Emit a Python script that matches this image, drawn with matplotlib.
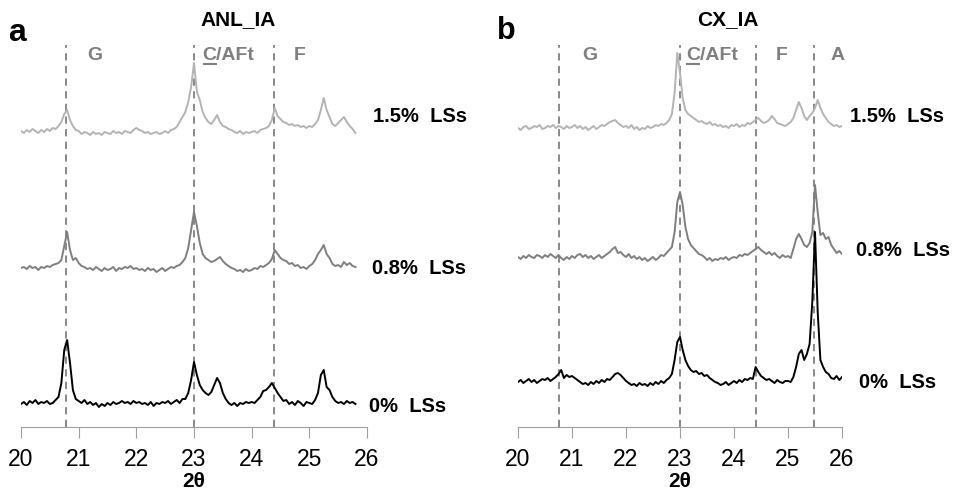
import numpy as np
import matplotlib
matplotlib.use("Agg")
import matplotlib.pyplot as plt

plt.rcParams['font.family'] = ['Liberation Sans', 'DejaVu Sans']

# XRD patterns, 2theta from 20 in 0.05 steps, intensity in arbitrary units
a_0 = [1, 3, 0, 4, 2, 5, 1, 3, 2, 4, 1, 2, 5, 8, 22, 55, 65, 42, 15, 6,
       4, 2, 5, 1, 3, 0, 2, -2, 1, -1, 2, 0, 3, 1, 2, 4, 2, 3, 1, 4,
       2, 3, 1, 2, 0, 3, -1, 2, 1, 3, 2, 4, 1, 3, 5, 2, 6, 6, 12, 25,
       43, 30, 20, 15, 12, 10, 13, 20, 27, 22, 12, 6, 2, 0, 2, -1, 2, 1, 3, 2,
       3, 2, 5, 8, 14, 15, 18, 22, 17, 12, 8, 4, 5, 1, 3, 0, 4, 2, -1, 3,
       2, 1, 5, 12, 30, 35, 18, 15, 8, 4, 2, 3, 1, 4, 2, 3, 1]
a_08 = [0, 1, -1, 2, 0, 1, -2, 1, 0, 2, 1, 3, 4, 5, 8, 22, 36, 18, 8, 10,
        5, 2, 1, -1, 0, -2, 1, -1, -3, 0, -2, -1, 1, -3, 0, -1, 1, 0, 2, -1,
        0, -2, -1, -3, 0, -2, -1, -4, -2, 0, -3, -1, 1, 0, 2, 3, 6, 10, 20, 38,
        56, 42, 25, 14, 10, 8, 6, 7, 9, 11, 7, 4, 2, 0, -1, -3, -2, -4, -1, -3,
        -2, 0, -1, 2, 1, 3, 5, 9, 18, 14, 10, 8, 7, 4, 5, 2, 3, 0, 1, -1,
        2, 4, 8, 14, 18, 23, 14, 10, 4, 2, 3, 1, 6, 3, 5, 2, 1]
a_15 = [1, -1, 2, 0, 3, 1, -1, 2, 0, 3, 1, 4, 3, 6, 10, 18, 22, 12, 6, 2,
        1, -2, 0, -1, -3, 0, -2, -1, -3, 0, -1, -2, 1, -1, 0, -2, 1, 0, -1, 2,
        4, 2, 1, -1, 0, -2, -1, 0, -2, -1, 1, -1, 2, 3, 5, 10, 15, 20, 30, 45,
        69, 40, 32, 20, 14, 10, 8, 12, 17, 10, 6, 5, 3, 2, 0, -1, 1, -2, 0, -1,
        0, 1, -1, 2, 3, 4, 6, 12, 24, 16, 13, 10, 9, 7, 8, 6, 7, 5, 6, 4,
        6, 5, 8, 12, 22, 34, 22, 15, 8, 6, 9, 12, 15, 10, 6, 3, -1]

b_0 = [0, 2, -1, 1, 3, 0, 2, -1, 1, 3, 2, 4, 1, 3, 5, 8, 12, 4, 7, 5,
       6, 4, 2, 0, -2, -1, -3, 0, -2, 1, -1, 2, 0, 3, 2, 5, 8, 9, 7, 4,
       1, -1, -3, -2, -4, -1, -3, -2, -4, -1, -3, 0, -2, 1, -1, 2, 4, 8, 22, 40,
       45, 32, 22, 16, 12, 10, 11, 8, 9, 6, 7, 4, 2, 0, -1, -3, -2, 0, -3, -1,
       1, -1, 2, 0, 3, 2, 4, 3, 15, 10, 6, 4, 2, 3, 1, -1, 2, 0, -1, 1,
       1, 0, 5, 15, 28, 32, 22, 28, 38, 80, 150, 70, 22, 15, 10, 8, 4, 3, 6, 2, 5]
b_08 = [0, -2, 1, -1, 2, 0, -1, 2, 1, -1, 2, 0, 3, 1, -1, 2, -1, -3, 0, -2,
        1, -1, 2, 3, 0, 2, -1, 1, -2, 0, 2, -1, 1, 3, 5, 8, 10, 4, 5, 2,
        0, 3, -1, 1, -2, 0, -3, -1, -4, -2, 0, -3, -1, 2, 1, 4, 7, 10, 25, 55,
        65, 52, 30, 18, 12, 9, 6, 3, 2, 0, -3, -1, -4, -2, -3, -1, -2, 0, -3, -1,
        0, -1, 2, 1, 3, 2, 4, 6, 8, 10, 7, 5, 3, 5, 2, 4, 1, -1, 2, 0,
        1, -1, 8, 18, 23, 18, 12, 10, 14, 25, 72, 45, 22, 24, 18, 20, 12, 8, 4, 6, 3]
b_15 = [0, -2, 1, 2, -1, 0, 2, 1, 3, -1, 0, 2, 1, 3, 0, 2, 1, -1, 2, 0,
        1, 3, 0, 2, -1, 1, -2, 0, 2, -1, 1, 3, 2, 4, 6, 7, 8, 5, 3, 1,
        2, 0, 3, -1, 1, -2, 0, -1, 2, 0, 1, 3, 2, 4, 3, 5, 8, 14, 35, 75,
        55, 30, 18, 14, 12, 10, 8, 6, 7, 5, 4, 6, 3, 4, 2, 3, 1, 2, 0, 3,
        2, 4, 1, 3, 2, 5, 4, 6, 8, 10, 7, 5, 6, 8, 12, 9, 5, 4, 3, 2,
        4, 6, 10, 18, 26, 20, 12, 8, 12, 15, 20, 28, 20, 14, 10, 6, 4, 2, 3, 1, 2]

labels = ['0% LSs', '0.8% LSs', '1.5% LSs']
colors = ['black', '#7f7f7f', '#b4b4b4']
offsets_a = [22, 159, 295]
offsets_b = [45, 170, 299]
lines_a = [20.78, 23.0, 24.38]
lines_b = [20.76, 23.0, 24.41, 25.48]
phases_a = [('G', 21.28), ('C/AFt', 23.6), ('F', 24.84)]
phases_b = [('G', 21.33), ('C/AFt', 23.59), ('F', 24.89), ('A', 25.91)]

W, H = 957, 491
fig = plt.figure(figsize=(W / 100, H / 100), dpi=100)


def make_axes(left_px, right_px):
    ax = fig.add_axes([left_px / W, (H - 427) / H, (right_px - left_px) / W, 427 / H])
    ax.set_xlim(20, 26)
    ax.set_ylim(0, 427)
    for s in ['top', 'right', 'left']:
        ax.spines[s].set_visible(False)
    ax.spines['bottom'].set_color('#a0a0a0')
    ax.set_yticks([])
    ax.set_xticks(range(20, 27))
    ax.tick_params(axis='x', direction='out', length=8, color='#a0a0a0',
                   labelsize=16.5, pad=7)
    ax.set_xlabel('2θ', fontsize=15, fontweight='bold', labelpad=1)
    ax.patch.set_alpha(0)
    return ax


def draw_panel(ax, series, offsets, vlines, phases, lab_pos):
    for xv in vlines:
        ax.plot([xv, xv], [0, 382], color='#808080', lw=1.3, dashes=(4, 3), zorder=1)
    for (vals, off, col, lab, pos) in zip(series, offsets, colors, labels, lab_pos):
        x = 20 + 0.05 * np.arange(len(vals))
        ax.plot(x, np.array(vals) + off, color=col, lw=1.4, zorder=2)
        ax.text(pos[0], 427 - pos[1], lab.replace(' ', '  '), fontsize=14.5,
                fontweight='bold', va='center', ha='left', clip_on=False)
    for name, xp in phases:
        ax.text(xp, 427 - 56, name, fontsize=14, fontweight='bold', color='#808080',
                ha='center', va='center')
        if name.startswith('C'):
            fig.canvas.draw()
            r = fig.canvas.get_renderer()
            t = ax.texts[-1]
            bb = t.get_window_extent(r)
            tmp = ax.text(0, 0, 'C', fontsize=14, fontweight='bold')
            cw = tmp.get_window_extent(r).width
            tmp.remove()
            inv = ax.transData.inverted()
            x0, y0 = inv.transform((bb.x0 + 1, bb.y0 + 1))
            x1, _ = inv.transform((bb.x0 + cw - 1, bb.y0 + 1))
            ax.plot([x0, x1], [y0, y0], color='#808080', lw=1.5, clip_on=False)


ax_a = make_axes(21, 367)
draw_panel(ax_a, [a_0, a_08, a_15], offsets_a, lines_a, phases_a,
           [(26.04, 407), (26.09, 268), (26.10, 117)])
ax_b = make_axes(518, 842)
draw_panel(ax_b, [b_0, b_08, b_15], offsets_b, lines_b, phases_b,
           [(26.31, 383), (26.26, 250), (26.15, 117)])

fig.text(238 / W, 1 - 20 / H, 'ANL_IA', fontsize=15, fontweight='bold', ha='center', va='center')
fig.text(728 / W, 1 - 20 / H, 'CX_IA', fontsize=15, fontweight='bold', ha='center', va='center')
fig.text(17 / W, 1 - 33 / H, 'a', fontsize=23, fontweight='bold', ha='center', va='center')
fig.text(506 / W, 1 - 31 / H, 'b', fontsize=22, fontweight='bold', ha='center', va='center')

fig.savefig('out.png', dpi=100)
